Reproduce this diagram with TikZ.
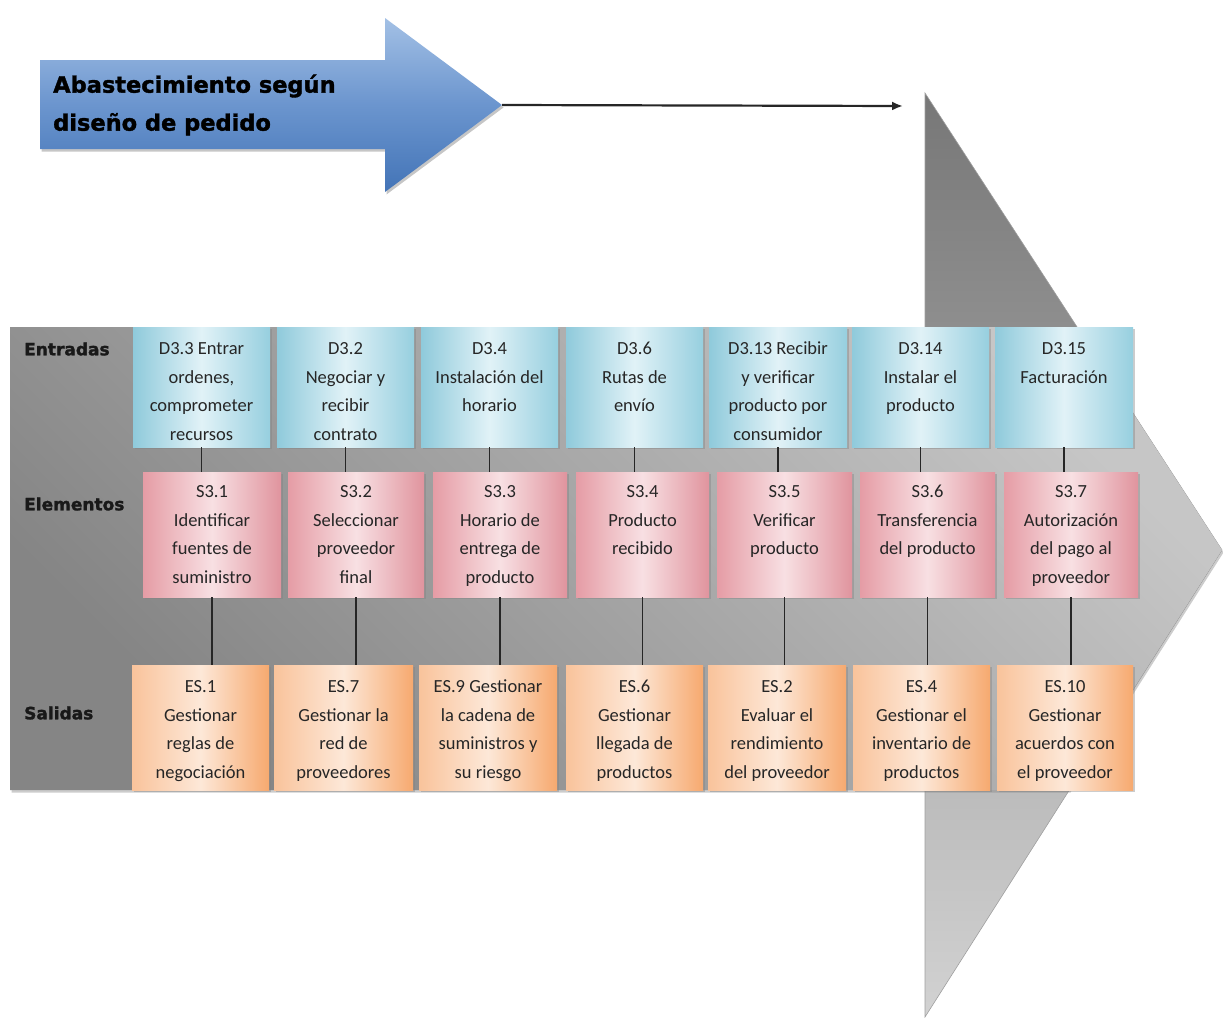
\documentclass[tikz,border=0pt]{standalone}
\usepackage{fontspec}
\setmainfont{Carlito}
\newfontfamily\headfont{DejaVu Sans Bold}[FakeBold=1.6]
\usetikzlibrary{shadows,arrows.meta}

% palette
\definecolor{panelLight}{HTML}{C6C6C6}
\definecolor{panelDark}{HTML}{858585}
\definecolor{headTop}{HTML}{777777}
\definecolor{headBot}{HTML}{D2D2D2}
\definecolor{bluTop}{HTML}{A3C0E5}
\definecolor{bluMid}{HTML}{6B95CE}
\definecolor{bluBot}{HTML}{4374B7}
\definecolor{inEdge}{HTML}{8FCADB}
\definecolor{inMid}{HTML}{E1F2F7}
\definecolor{inEdgeR}{HTML}{97CFDF}
\definecolor{elEdge}{HTML}{E59CA5}
\definecolor{elMid}{HTML}{F8E0E3}
\definecolor{elEdgeR}{HTML}{E0949E}
\definecolor{outEdge}{HTML}{F9C39B}
\definecolor{outMid}{HTML}{FDE8D8}
\definecolor{outEdgeR}{HTML}{F6A96F}
\definecolor{txt}{HTML}{262626}

% top padding inside a cell
\newlength\cellpad
% #1 name, #2 style, #3 x, #4 y (top-left corner), #5 width, #6 height, #7 text
\newcommand\mkcell[7]{%
  \node[#2, minimum width=#5pt, minimum height=#6pt] (#1) at (#3,#4)
    {\parbox[c][#6pt][t]{#5pt}{\centering\vspace*{\cellpad}\strut #7}};}

\tikzset{
  cellbox/.style={anchor=north west, inner sep=0pt, outer sep=0pt,
    font=\fontsize{18.5}{28.5}\selectfont, text=txt,
    drop shadow={opacity=0.4, shadow xshift=1.5pt, shadow yshift=-2pt}},
  inbox/.style={cellbox, left color=inEdge, right color=inEdgeR, middle color=inMid},
  elbox/.style={cellbox, left color=elEdge, right color=elEdgeR, middle color=elMid},
  outbox/.style={cellbox, left color=outEdge, right color=outEdgeR, middle color=outMid},
  rowlab/.style={anchor=west, inner sep=0pt, text=black!90,
    font=\headfont\fontsize{17}{21}\selectfont},
  conn/.style={draw=black!85, line width=1.8pt},
}

\begin{document}
\begin{tikzpicture}[x=1pt, y=-1pt]
\useasboundingbox (0,0) rectangle (1223,1017);

% big grey process arrow: head
\shade[top color=headTop, bottom color=headBot, draw=gray!75, line width=0.6pt]
  (925,93) -- (1222,550) -- (925,1017) -- cycle;
% big grey process arrow: band holding the three rows
\shade[top color=panelLight, bottom color=panelDark, shading angle=-45,
       drop shadow={opacity=0.4, shadow xshift=1.5pt, shadow yshift=-2.5pt}]
  (10,327) -- (1077,327) -- (1222,550) -- (1069,790) -- (10,790) -- cycle;

% blue title arrow
\shade[top color=bluTop, bottom color=bluBot, middle color=bluMid,
       drop shadow={opacity=0.45, shadow xshift=1.5pt, shadow yshift=-2.5pt}]
  (40,60) -- (385,60) -- (385,18) -- (502,105) -- (385,192) -- (385,149) -- (40,149) -- cycle;
\coordinate (bluetip) at (502,105);
\coordinate (lineend) at (903,106);
\node[font=\headfont\fontsize{22.5}{38}\selectfont, align=left,
      anchor=west, inner sep=0pt, text=black] (title) at (53,105)
  {Abastecimiento según\\diseño de pedido};
\draw[-{Latex[length=11pt,width=9pt]}, line width=2.2pt, black!85] (bluetip) -- (lineend);

% row labels
\node[rowlab] (lblIn)  at (24,349) {Entradas};
\node[rowlab] (lblEl)  at (24,504) {Elementos};
\node[rowlab] (lblOut) at (24,713) {Salidas};

% inputs
\setlength\cellpad{8pt}
\mkcell{in1}{inbox}{133}{327}{137}{120}{D3.3 Entrar\\ordenes,\\comprometer\\recursos}
\mkcell{in2}{inbox}{277}{327}{137}{120}{D3.2\\Negociar y\\recibir\\contrato}
\mkcell{in3}{inbox}{421}{327}{137}{120}{D3.4\\Instalación del\\horario}
\mkcell{in4}{inbox}{566}{327}{137}{120}{D3.6\\Rutas de\\envío}
\mkcell{in5}{inbox}{709}{327}{138}{120}{D3.13 Recibir\\y verificar\\producto por\\consumidor}
\mkcell{in6}{inbox}{852}{327}{137}{120}{D3.14\\Instalar el\\producto}
\mkcell{in7}{inbox}{995}{327}{138}{120}{D3.15\\Facturación}

% process elements
\setlength\cellpad{6pt}
\mkcell{el1}{elbox}{143}{472}{138}{125}{S3.1\\Identificar\\fuentes de\\suministro}
\mkcell{el2}{elbox}{288}{472}{136}{125}{S3.2\\Seleccionar\\proveedor\\final}
\mkcell{el3}{elbox}{433}{472}{134}{125}{S3.3\\Horario de\\entrega de\\producto}
\mkcell{el4}{elbox}{576}{472}{133}{125}{S3.4\\Producto\\recibido}
\mkcell{el5}{elbox}{717}{472}{135}{125}{S3.5\\Verificar\\producto}
\mkcell{el6}{elbox}{860}{472}{135}{125}{S3.6\\Transferencia\\del producto}
\mkcell{el7}{elbox}{1004}{472}{134}{125}{S3.7\\Autorización\\del pago al\\proveedor}

% outputs
\setlength\cellpad{8pt}
\mkcell{out1}{outbox}{132}{665}{137}{125}{ES.1\\Gestionar\\reglas de\\negociación}
\mkcell{out2}{outbox}{274}{665}{139}{125}{ES.7\\Gestionar la\\red de\\proveedores}
\mkcell{out3}{outbox}{419}{665}{138}{125}{ES.9 Gestionar\\la cadena de\\suministros y\\su riesgo}
\mkcell{out4}{outbox}{566}{665}{137}{125}{ES.6\\Gestionar\\llegada de\\productos}
\mkcell{out5}{outbox}{708}{665}{138}{125}{ES.2\\Evaluar el\\rendimiento\\del proveedor}
\mkcell{out6}{outbox}{853}{665}{137}{125}{ES.4\\Gestionar el\\inventario de\\productos}
\mkcell{out7}{outbox}{997}{665}{136}{125}{ES.10\\Gestionar\\acuerdos con\\el proveedor}

% links input -> element -> output
\foreach \i in {1,...,7}{
  \draw[conn] (in\i.south) -- (in\i.south |- el\i.north);
  \draw[conn] (el\i.south) -- (el\i.south |- out\i.north);
}
\end{tikzpicture}
\end{document}
